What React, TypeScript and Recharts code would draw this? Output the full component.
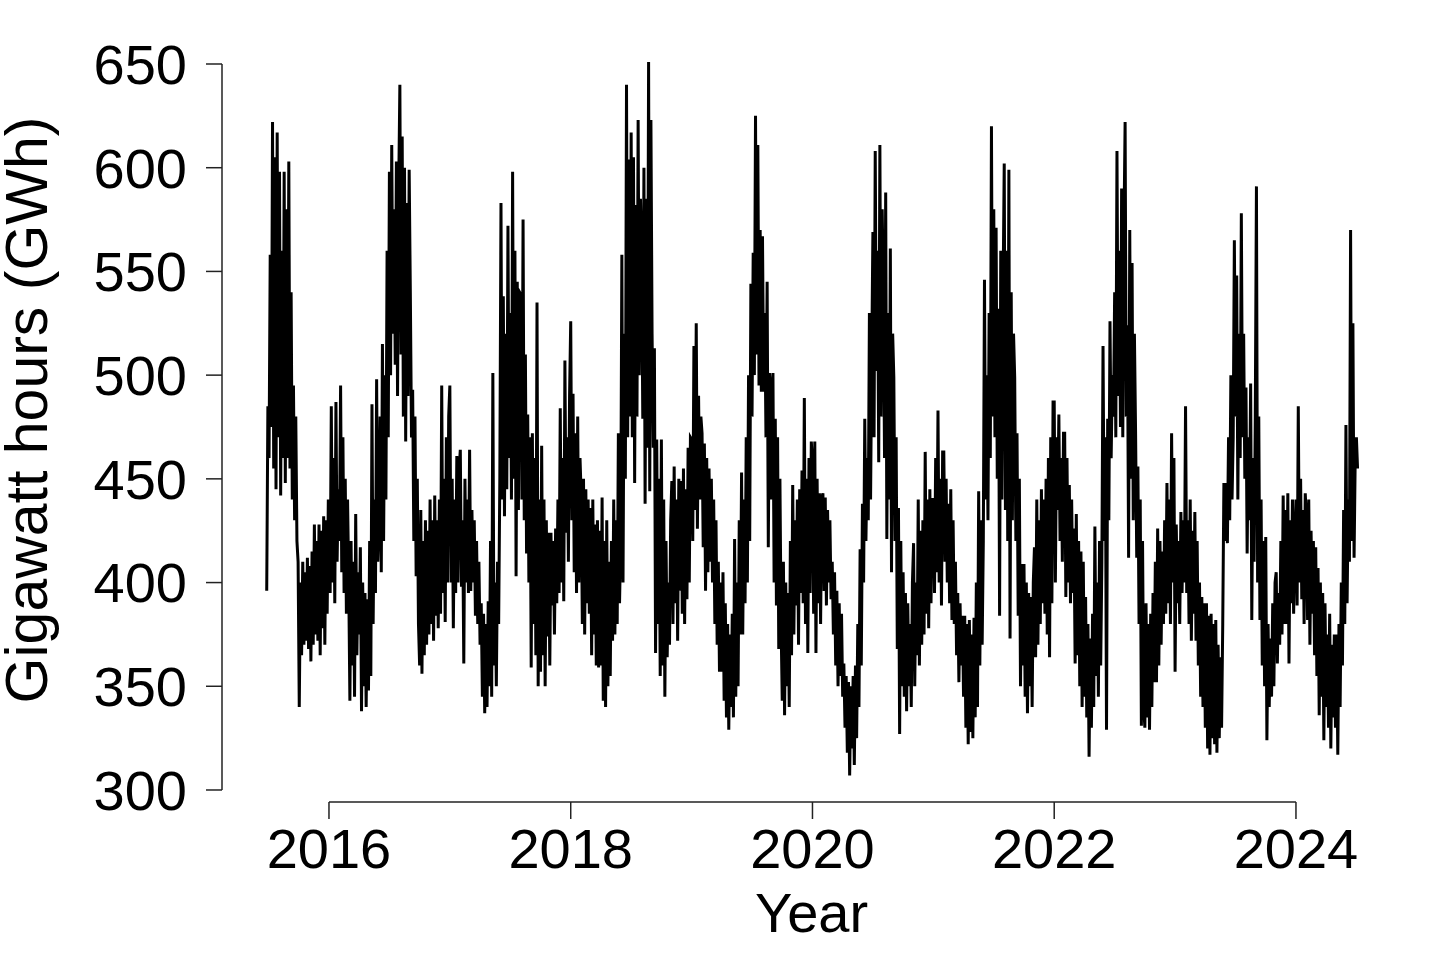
import React from 'react';
import { LineChart, Line, XAxis, YAxis, ReferenceLine } from 'recharts';

// Daily electricity demand (GWh) at half-week resolution
const STEP = 1 / 104;

const d2015 = [
  396, 485, 460, 558, 475, 622, 455, 605, 445, 617,
  470, 598, 442, 560, 460, 598, 448, 580, 460,
  603, 455, 540, 440, 495, 430, 480, 420,
  410, 340, 400, 365, 410, 370, 405, 372, 412,
  368, 408, 362, 415, 370, 428, 375, 420,
  372, 428, 365, 425, 378, 432, 370, 430, 385, 440,
];
const d2016 = [
  430, 395, 485, 400, 460, 390, 487, 410, 445,
  420, 495, 405, 470, 395, 450, 385, 440,
  400, 343, 420, 360, 410, 345, 433, 365, 405,
  375, 417, 338, 400, 350, 395, 340, 392,
  348, 420, 355, 486, 380, 440, 395, 498, 410,
  430, 480, 405, 515, 420, 500, 440, 560, 470,
  598, 500, 611, 520, 580, 505, 603, 490, 590,
  640, 510, 615, 480, 600, 468, 583, 490, 599,
  540, 470, 493, 420, 480, 403, 450, 380,
  360, 435, 356, 420, 365, 430, 370, 425, 375,
  440, 380, 430, 372, 442, 384, 430, 378,
  440, 385, 495, 395, 450, 381, 470, 400, 480,
];
const d2017 = [
  495, 400, 450, 378, 440, 395, 461, 400, 455,
  464, 398, 430, 361, 450, 400, 440, 395,
  464, 396, 435, 400, 430, 384, 420, 380, 410,
  370, 390, 345, 385, 337, 380, 340, 391,
  350, 420, 345, 501, 360, 400, 350, 410, 380,
  450, 583, 440, 538, 432, 520, 445, 572, 460,
  530, 440, 598, 450, 560, 403, 545, 435, 540,
  539, 440, 575, 430, 510, 414, 481, 400, 470,
  359, 472, 380, 460, 365, 535, 350, 440,
  357, 466, 365, 440, 350, 430, 374, 424, 360,
  424, 389, 420, 375, 426, 390, 440, 395,
  484, 400, 460, 391, 507, 424, 470, 410, 490,
];
const d2018 = [
  526, 430, 491, 405, 472, 395, 480, 400, 460,
  442, 380, 450, 375, 445, 390, 440, 385,
  436, 365, 440, 375, 428, 360, 430, 359, 425,
  360, 441, 343, 420, 340, 430, 350, 410,
  355, 420, 372, 440, 375, 430, 380, 472, 390,
  420, 558, 400, 520, 450, 640, 470, 604, 480,
  617, 470, 605, 448, 582, 480, 623, 500, 585,
  560, 479, 600, 438, 585, 465, 651, 444, 623,
  520, 465, 513, 366, 469, 380, 450, 355,
  469, 360, 440, 345, 420, 364, 400, 370, 430,
  449, 380, 456, 390, 440, 372, 450, 396,
  449, 385, 455, 380, 445, 392, 465, 400, 470,
];
const d2019 = [
  469, 420, 514, 435, 525, 426, 490, 440, 480,
  472, 417, 467, 396, 460, 405, 455, 410,
  450, 400, 440, 380, 430, 370, 410, 357, 400,
  357, 405, 343, 390, 335, 380, 329, 375,
  340, 385, 335, 421, 345, 400, 350, 430, 375,
  453, 375, 440, 390, 470, 400, 500, 420, 544,
  480, 559, 500, 625, 510, 611, 495, 570, 492,
  567, 492, 530, 470, 545, 417, 501, 440, 495,
  501, 400, 479, 389, 470, 368, 450, 380,
  343, 410, 336, 400, 350, 395, 340, 420, 365,
  447, 375, 430, 389, 440, 370, 445, 395,
  454, 390, 489, 380, 450, 366, 460, 395, 468,
];
const d2020 = [
  458, 385, 468, 366, 450, 390, 443, 380, 441,
  443, 396, 441, 389, 435, 400, 430, 392,
  410, 375, 405, 360, 396, 350, 390, 355, 385,
  345, 361, 330, 355, 318, 352, 307, 350,
  320, 355, 312, 360, 325, 380, 340, 416, 360,
  438, 400, 479, 420, 460, 430, 530, 440, 510,
  569, 470, 608, 502, 560, 458, 611, 480, 580,
  540, 460, 588, 421, 530, 440, 561, 405, 520,
  499, 420, 470, 368, 436, 327, 420, 350,
  405, 345, 395, 338, 390, 350, 380, 340, 400,
  419, 350, 400, 365, 440, 360, 425, 370,
  430, 375, 463, 385, 440, 378, 445, 390, 440,
];
const d2021 = [
  440, 395, 460, 405, 483, 400, 450, 389, 463,
  463, 410, 450, 400, 438, 390, 445, 382,
  430, 380, 410, 365, 395, 352, 390, 360, 384,
  345, 384, 330, 380, 322, 382, 328, 375,
  325, 383, 335, 400, 340, 444, 360, 430, 370,
  420, 546, 440, 500, 430, 530, 460, 620, 480,
  580, 470, 571, 450, 532, 384, 560, 440, 540,
  602, 435, 560, 420, 599, 373, 540, 430, 520,
  499, 420, 472, 384, 450, 350, 409, 360,
  409, 345, 400, 337, 395, 350, 393, 340, 400,
  417, 364, 440, 370, 430, 380, 445, 390,
  440, 385, 450, 375, 460, 364, 470, 390, 487,
];
const d2022 = [
  487, 400, 470, 435, 481, 420, 460, 410, 472,
  472, 393, 460, 400, 447, 390, 440, 395,
  426, 361, 433, 365, 420, 350, 415, 340, 410,
  345, 393, 335, 380, 316, 373, 330, 385,
  340, 427, 355, 400, 345, 420, 360, 410, 514,
  420, 470, 329, 479, 430, 526, 460, 500, 480,
  540, 470, 608, 490, 560, 475, 590, 470, 570,
  622, 480, 524, 412, 570, 450, 554, 430, 520,
  473, 412, 456, 380, 440, 331, 420, 340,
  330, 390, 335, 380, 329, 385, 340, 395, 352,
  410, 352, 426, 360, 420, 370, 415, 380,
  430, 385, 448, 390, 440, 380, 472, 400, 460,
];
const d2023 = [
  357, 428, 390, 420, 380, 434, 395, 430, 400,
  485, 395, 430, 380, 440, 372, 425, 385,
  434, 372, 420, 360, 400, 345, 393, 340, 390,
  330, 390, 320, 384, 317, 385, 325, 380,
  322, 382, 318, 370, 325, 364, 330, 380, 448,
  420, 448, 419, 470, 430, 500, 440, 470, 565,
  480, 548, 440, 520, 460, 578, 470, 520, 450,
  494, 414, 470, 430, 496, 382, 460, 410, 480,
  591, 400, 480, 382, 440, 360, 420, 350,
  422, 324, 380, 340, 373, 345, 390, 350, 400,
  405, 361, 395, 370, 420, 375, 442, 380,
  435, 380, 443, 361, 430, 390, 440, 385, 420,
];
const d2024 = [
  440, 389, 485, 400, 450, 392, 435, 380, 443,
  430, 382, 440, 370, 425, 385, 420, 365,
  417, 355, 407, 336, 400, 345, 395, 324, 390,
  340, 375, 330, 385, 320, 370, 335, 375,
  330, 375, 317, 380, 340, 400, 360, 435, 380,
  476, 390, 440, 410, 570, 420, 525, 412, 461,
  470, 455,
];

const yearStarts = [2015.485, 2016, 2017, 2018, 2019, 2020, 2021, 2022, 2023, 2024];
const yearValues = [d2015, d2016, d2017, d2018, d2019, d2020, d2021, d2022, d2023, d2024];

const data = yearValues.flatMap((vals, k) =>
  vals.map((v, i) => ({ t: yearStarts[k] + i * STEP, gwh: v }))
);

const yearTicks = [2016, 2018, 2020, 2022, 2024];
const gwhTicks = [300, 350, 400, 450, 500, 550, 600, 650];

const X_MIN = 2015.115;
const X_MAX = 2024.869;
const Y_MIN = 294.21;
const Y_MAX = 663.98;

const FONT = '"Liberation Sans", Arial, Helvetica, sans-serif';
const FS = 56;
const AXIS = '#222';

export default function App() {
  return (
    <div style={{ position: 'absolute', left: 0, top: 0, width: 1435, height: 957, background: '#fff' }}>
      <LineChart
        width={1435}
        height={957}
        data={data}
        margin={{ top: 35, right: 34, bottom: 0, left: 0 }}
      >
        <XAxis
          dataKey="t"
          type="number"
          domain={[X_MIN, X_MAX]}
          ticks={yearTicks}
          interval={0}
          allowDataOverflow
          axisLine={false}
          tickLine={{ stroke: AXIS, strokeWidth: 1.5 }}
          tickSize={17}
          tickMargin={9}
          height={155}
          tick={{ fontSize: FS, fill: '#000', fontFamily: FONT }}
          label={{
            content: () => (
              <text x={811.5} y={932} textAnchor="middle" fontSize={FS} fontFamily={FONT} fill="#000">
                Year
              </text>
            ),
          }}
        />
        <YAxis
          type="number"
          domain={[Y_MIN, Y_MAX]}
          ticks={gwhTicks}
          interval={0}
          allowDataOverflow
          axisLine={false}
          tickLine={{ stroke: AXIS, strokeWidth: 1.5 }}
          tickSize={16}
          tickMargin={19}
          width={222}
          tick={{ fontSize: FS, fill: '#000', fontFamily: FONT }}
          label={{
            content: () => (
              <text
                x={47}
                y={410}
                transform="rotate(-90, 47, 410)"
                textAnchor="middle"
                fontSize={59}
                fontFamily={FONT}
                fill="#000"
              >
                Gigawatt hours (GWh)
              </text>
            ),
          }}
        />
        <ReferenceLine
          segment={[{ x: 2016, y: Y_MIN }, { x: 2024, y: Y_MIN }]}
          stroke={AXIS}
          strokeWidth={1.5}
          ifOverflow="visible"
        />
        <ReferenceLine
          segment={[{ x: X_MIN, y: 300 }, { x: X_MIN, y: 650 }]}
          stroke={AXIS}
          strokeWidth={1.5}
          ifOverflow="visible"
        />
        <Line
          dataKey="gwh"
          type="linear"
          stroke="#000"
          strokeWidth={3}
          dot={false}
          isAnimationActive={false}
        />
      </LineChart>
    </div>
  );
}
